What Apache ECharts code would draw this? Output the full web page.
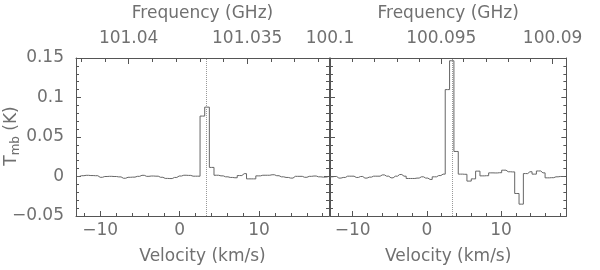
<!DOCTYPE html>
<html>
<head>
<meta charset="utf-8">
<script src="https://cdn.jsdelivr.net/npm/echarts@6/dist/echarts.min.js"></script>
<style>
html, body { margin: 0; padding: 0; background: #fff; }
#chart { width: 600px; height: 270px; }
</style>
</head>
<body>
<div id="chart"></div>
<script>
// spectra: channel width (km/s), first channel centre, Tmb per channel
var chanWidth = 0.585;
var velStartLeft = -12.935;
var velStartRight = -13.025;

var fluxLeft = [
    0.0000, 0.0010, 0.0015, 0.0012, 0.0010, -0.0010, 0.0000, 0.0002, 0.0000, -0.0005,
    -0.0022, -0.0010, -0.0008, 0.0002, 0.0015, 0.0002, 0.0006, 0.0004, -0.0010, -0.0024,
    -0.0026, -0.0012, 0.0006, 0.0016, 0.0014, 0.0004, 0.0004,
    0.0765, 0.0878, 0.0115,
    0.0016, 0.0008, -0.0004, -0.0012, -0.0016, 0.0012, 0.0036, -0.0030, -0.0030, 0.0008,
    0.0016, 0.0016, 0.0022, 0.0010, -0.0004, -0.0012, -0.0020, 0.0002, 0.0002, -0.0010,
    0.0002, 0.0006, -0.0004, -0.0008, -0.0004
];

var fluxRight = [
    -0.0004, 0.0000, -0.0020, -0.0012, 0.0004, 0.0004, -0.0012, 0.0000, -0.0020, -0.0008,
    0.0004, 0.0004, 0.0020, 0.0004, -0.0017, 0.0004, 0.0025, 0.0004, -0.0025, -0.0025,
    -0.0020, -0.0004, -0.0020, -0.0037, -0.0004, 0.0012, 0.0030,
    0.1100, 0.1465, 0.0317,
    0.0030, 0.0028, -0.0058, -0.0030, 0.0068, 0.0008, 0.0010, 0.0046, 0.0045, 0.0048,
    0.0080, 0.0060, 0.0058, -0.0215, -0.0350, 0.0037, 0.0060, 0.0030, 0.0070, 0.0046,
    -0.0017, -0.0015, -0.0004, 0.0000, 0.0000
];

var lineVelocity = 3.38;

// axes
var velRange = [-13.05, 18.8];
var velMajor = [-10, 0, 10];
var velMinor = [-12, -8, -6, -4, -2, 2, 4, 6, 8, 12, 14, 16, 18];
var fluxRange = [-0.05, 0.15];
var fluxStep = 0.05;

var freqRangeLeft = [101.03155, 101.04222];
var freqMajorLeft = [101.035, 101.04];
var freqMinorLeft = [101.032, 101.033, 101.034, 101.036, 101.037, 101.038, 101.039, 101.041, 101.042];
var freqRangeRight = [100.08938, 100.1];
var freqMajorRight = [100.09, 100.095, 100.1];
var freqMinorRight = [100.091, 100.092, 100.093, 100.094, 100.096, 100.097, 100.098, 100.099];

var font = 'DejaVu Sans';
var fontSize = 17;
var textColor = '#707070';
var axisColor = '#555';

function minus(v) {
    return String(v).replace('-', '\u2212');
}

function toPairs(start, flux) {
    return flux.map(function (f, i) {
        return [+(start + i * chanWidth).toFixed(3), f];
    });
}

var panels = [
    { left: 76, start: velStartLeft, flux: fluxLeft, fRange: freqRangeLeft, fMajor: freqMajorLeft, fMinor: freqMinorLeft, yLabels: true },
    { left: 330, start: velStartRight, flux: fluxRight, fRange: freqRangeRight, fMajor: freqMajorRight, fMinor: freqMinorRight, yLabels: false }
];

var grid = [], xAxis = [], yAxis = [], series = [];

panels.forEach(function (p, i) {
    grid.push({ left: p.left, top: 58, width: 253, height: 160 });

    // velocity, bottom
    xAxis.push({
        gridIndex: i, type: 'value', position: 'bottom',
        min: velRange[0], max: velRange[1],
        axisLine: { show: true, onZero: false, lineStyle: { color: axisColor, width: 1 } },
        axisTick: { show: true, inside: true, length: 5, customValues: velMajor, lineStyle: { color: axisColor } },
        axisLabel: { show: true, customValues: velMajor, margin: 6, formatter: minus,
            color: textColor, fontSize: fontSize, fontFamily: font },
        splitLine: { show: false },
        name: 'Velocity (km/s)', nameLocation: 'middle', nameGap: 32,
        nameTextStyle: { color: textColor, fontSize: fontSize, fontFamily: font }
    });
    xAxis.push({
        gridIndex: i, type: 'value', position: 'bottom',
        min: velRange[0], max: velRange[1],
        axisLine: { show: false, onZero: false },
        axisTick: { show: true, inside: true, length: 3, customValues: velMinor, lineStyle: { color: axisColor } },
        axisLabel: { show: false },
        splitLine: { show: false }
    });
    // frequency, top
    xAxis.push({
        gridIndex: i, type: 'value', position: 'top', inverse: true,
        min: p.fRange[0], max: p.fRange[1],
        axisLine: { show: true, onZero: false, lineStyle: { color: axisColor, width: 1 } },
        axisTick: { show: true, inside: true, length: 6, customValues: p.fMajor, lineStyle: { color: axisColor } },
        axisLabel: { show: true, customValues: p.fMajor, margin: 11, formatter: function (v) { return String(v); },
            color: textColor, fontSize: fontSize, fontFamily: font },
        splitLine: { show: false },
        name: 'Frequency (GHz)', nameLocation: 'middle', nameGap: 36,
        nameTextStyle: { color: textColor, fontSize: fontSize, fontFamily: font }
    });
    xAxis.push({
        gridIndex: i, type: 'value', position: 'top', inverse: true,
        min: p.fRange[0], max: p.fRange[1],
        axisLine: { show: false, onZero: false },
        axisTick: { show: true, inside: true, length: 4, customValues: p.fMinor, lineStyle: { color: axisColor } },
        axisLabel: { show: false },
        splitLine: { show: false }
    });

    ['left', 'right'].forEach(function (side) {
        yAxis.push({
            gridIndex: i, type: 'value', position: side,
            min: fluxRange[0], max: fluxRange[1], interval: fluxStep,
            axisLine: { show: true, onZero: false, lineStyle: { color: axisColor, width: 1 } },
            axisTick: { show: true, inside: true, length: 5, lineStyle: { color: axisColor } },
            minorTick: { show: true, splitNumber: 5, length: 3, lineStyle: { color: axisColor } },
            axisLabel: { show: side === 'left' && p.yLabels, margin: 12, formatter: minus,
                color: textColor, fontSize: fontSize, fontFamily: font },
            splitLine: { show: false }
        });
    });

    series.push({
        type: 'line', step: 'middle',
        xAxisIndex: i * 4, yAxisIndex: i * 2,
        data: toPairs(p.start, p.flux),
        showSymbol: false, silent: true,
        lineStyle: { color: '#666', width: 1 },
        markLine: {
            silent: true, symbol: ['none', 'none'], label: { show: false },
            lineStyle: { type: 'dotted', color: '#999', width: 1 },
            data: [{ xAxis: lineVelocity }]
        }
    });
});

var chart = echarts.init(document.getElementById('chart'));
chart.setOption({
    animation: false,
    backgroundColor: '#fff',
    grid: grid,
    xAxis: xAxis,
    yAxis: yAxis,
    series: series,
    graphic: [{
        type: 'text', x: 12, y: 136, rotation: Math.PI / 2,
        style: {
            text: '{a|T}{b|mb}{a| (K)}',
            align: 'center', verticalAlign: 'middle',
            fill: textColor, fontFamily: font, fontSize: fontSize,
            rich: {
                a: { fontSize: fontSize, fontFamily: font, fill: textColor, lineHeight: 19 },
                b: { fontSize: 12, fontFamily: font, fill: textColor, lineHeight: 13, padding: [8, 0, 0, 0], verticalAlign: 'bottom' }
            }
        }
    }]
});
</script>
</body>
</html>
